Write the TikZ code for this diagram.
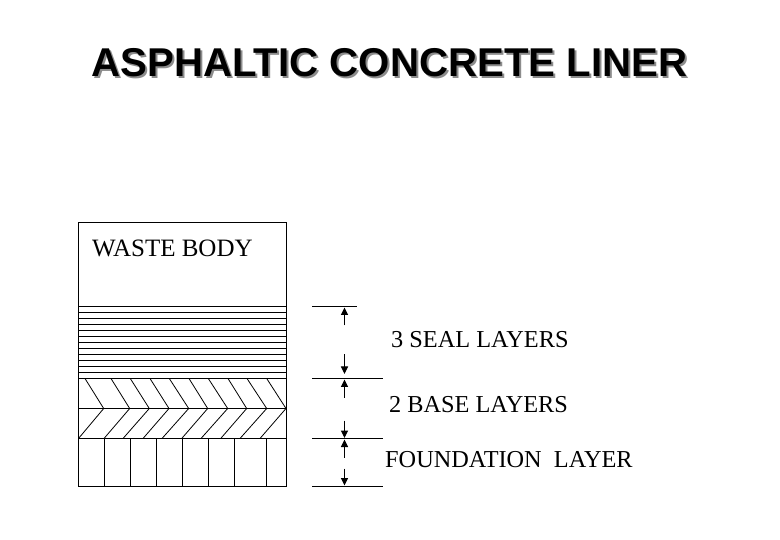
\documentclass[tikz,border=0pt]{standalone}
\usepackage{fontspec}
\setmainfont{Liberation Serif}
\newfontfamily\titlefont{Liberation Sans}
\usetikzlibrary{arrows.meta}
\tikzset{
  ln/.style={line width=1pt,black},
  thin ln/.style={line width=0.8pt,black},
  lab/.style={anchor=base west,inner sep=0pt,font=\fontsize{24.3}{26}\selectfont},
  dim/.style={line width=1pt,-{Triangle[length=7.5pt,width=7pt]}},
  ttl/.style={anchor=base west,inner sep=0pt,font=\titlefont\bfseries\fontsize{40.2}{42}\selectfont}
}
\begin{document}
\begin{tikzpicture}[x=1pt,y=-1pt]
\useasboundingbox (0,0) rectangle (780,540);
\fill[white] (0,0) rectangle (780,540);
% title
\node[ttl,text=black!45] (titleshadow) at (93.5,79) {ASPHALTIC CONCRETE LINER};
\node[ttl] (title) at (91.5,77) {ASPHALTIC CONCRETE LINER};
\begin{scope}[yshift=-0.5pt]
% seal layers
\foreach \y in {306,312,...,378} \draw[ln] (78.5,\y) -- (286.5,\y);
\draw[ln] (78.5,408) -- (286.5,408);
\draw[ln] (78.5,438) -- (286.5,438);
% chevrons
\foreach \a/\b/\c in {85/103.7/78.5,111/129.7/104,130.3/149.3/123,150/169/143,169.3/188.7/162,189/207.7/181.7,208.3/227.7/201,228/246.7/220.7,247/266.7/240,266.7/286/260}
  \draw[thin ln] (\a,378) -- (\b,408) -- (\c,438);
% foundation
\foreach \x in {104.5,130.5,156.5,182.5,208.5,234.5,266.5} \draw[ln] (\x,438) -- (\x,486);
% outline
\draw[ln] (78.5,222) rectangle (286.5,486);
% dimension lines
\coordinate (t1l) at (312,306); \coordinate (t1r) at (357,306);
\coordinate (t2l) at (312,378); \coordinate (t2r) at (383,378);
\coordinate (t3l) at (312,438); \coordinate (t3r) at (383,438);
\coordinate (t4l) at (312,486); \coordinate (t4r) at (383,486);
\draw[ln] (t1l) -- (t1r);
\draw[ln] (t2l) -- (t2r);
\draw[ln] (t3l) -- (t3r);
\draw[ln] (t4l) -- (t4r);
\coordinate (a1) at (344.5,325); \coordinate (a1e) at (344.5,307);
\coordinate (a2) at (344.5,354); \coordinate (a2e) at (344.5,373.5);
\coordinate (a3) at (344.5,397); \coordinate (a3e) at (344.5,379);
\coordinate (a4) at (344.5,420); \coordinate (a4e) at (344.5,437.5);
\coordinate (a5) at (344.5,457); \coordinate (a5e) at (344.5,439);
\coordinate (a6) at (344.5,468); \coordinate (a6e) at (344.5,485);
\draw[dim] (a1) -- (a1e);
\draw[dim] (a2) -- (a2e);
\draw[dim] (a3) -- (a3e);
\draw[dim] (a4) -- (a4e);
\draw[dim] (a5) -- (a5e);
\draw[dim] (a6) -- (a6e);
\end{scope}
% labels
\node[lab,font=\fontsize{25}{27}\selectfont] (waste) at (92,257) {WASTE BODY};
\node[lab] (seal) at (391,348) {3 SEAL LAYERS};
\node[lab] (base) at (389,413) {2 BASE LAYERS};
\node[lab] (found) at (385,467) {FOUNDATION\ \ LAYER};
\end{tikzpicture}
\end{document}
